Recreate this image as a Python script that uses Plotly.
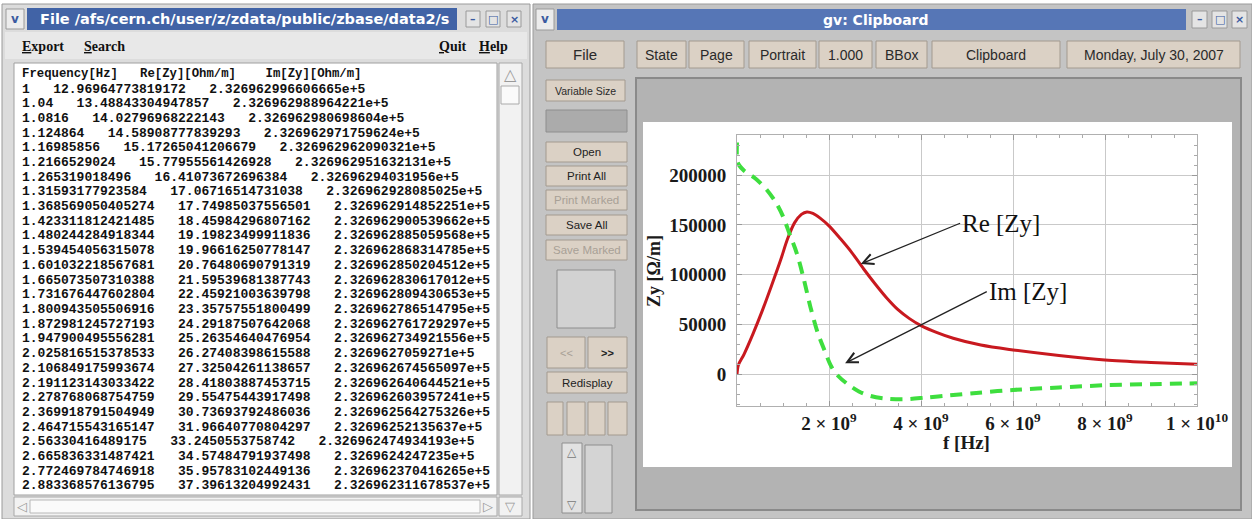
import plotly.graph_objects as go

W, H = 1252, 519

# ---------------- chart data ----------------
re_freq_hz = [0, 0.03e9, 0.15e9, 0.35e9, 0.55e9, 0.75e9, 0.95e9, 1.1e9, 1.25e9, 1.4e9,
              1.52e9, 1.65e9, 1.8e9, 2.0e9, 2.25e9, 2.5e9, 2.75e9, 3.0e9, 3.25e9, 3.5e9,
              3.75e9, 4.0e9, 4.35e9, 4.7e9, 5.3e9, 6.0e9, 7.0e9, 8.0e9, 9.0e9, 10.0e9]
re_zy = [0, 9500, 20000, 41000, 64000, 89000, 115000, 136000, 152000, 160500,
         163000, 161500, 157000, 149000, 136000, 122000, 106000, 91000, 77000, 65000,
         56000, 49000, 42000, 36300, 29500, 24600, 19000, 14500, 12000, 10200]

im_freq_hz = [0, 0.02e9, 0.15e9, 0.4e9, 0.65e9, 0.85e9, 1.0e9, 1.15e9, 1.3e9, 1.45e9,
              1.6e9, 1.75e9, 1.9e9, 2.05e9, 2.2e9, 2.4e9, 2.65e9, 2.9e9, 3.2e9, 3.6e9,
              4.1e9, 4.6e9, 5.2e9, 6.0e9, 7.0e9, 8.0e9, 9.0e9, 10.0e9]
im_zy = [232700, 212000, 204500, 196500, 185000, 172000, 158500, 140000, 121500, 96000,
         67000, 42500, 24500, 8000, -1500, -9500, -17000, -21500, -24000, -24900,
         -23200, -21000, -18500, -15500, -13000, -10800, -9700, -8800]

y_tick_vals = [0, 50000, 100000, 150000, 200000]
y_tick_text = ["0", "50000", "100000", "150000", "200000"]
x_tick_vals = [2e9, 4e9, 6e9, 8e9, 1e10]
x_tick_text = ["2 × 10<sup>9</sup>", "4 × 10<sup>9</sup>", "6 × 10<sup>9</sup>",
               "8 × 10<sup>9</sup>", "1 × 10<sup>10</sup>"]

# ---------------- text table in the file viewer ----------------
table_header = ["Frequency[Hz]", "Re[Zy][Ohm/m]", "Im[Zy][Ohm/m]"]
table_freq = ["1", "1.04", "1.0816", "1.124864", "1.16985856", "1.2166529024",
              "1.265319018496", "1.31593177923584", "1.368569050405274", "1.423311812421485",
              "1.480244284918344", "1.539454056315078", "1.601032218567681", "1.665073507310388",
              "1.731676447602804", "1.800943505506916", "1.872981245727193", "1.947900495556281",
              "2.025816515378533", "2.106849175993674", "2.191123143033422", "2.278768068754759",
              "2.369918791504949", "2.464715543165147", "2.56330416489175", "2.665836331487421",
              "2.772469784746918", "2.883368576136795"]
table_re = ["12.96964773819172", "13.48843304947857", "14.02796968222143", "14.58908777839293",
            "15.17265041206679", "15.77955561426928", "16.41073672696384", "17.06716514731038",
            "17.74985037556501", "18.45984296807162", "19.19823499911836", "19.96616250778147",
            "20.76480690791319", "21.59539681387743", "22.45921003639798", "23.35757551800499",
            "24.29187507642068", "25.26354640476954", "26.27408398615588", "27.32504261138657",
            "28.41803887453715", "29.55475443917498", "30.73693792486036", "31.96640770804297",
            "33.2450553758742", "34.57484791937498", "35.95783102449136", "37.39613204992431"]
table_im = ["2.326962996606665e+5", "2.326962988964221e+5", "2.326962980698604e+5",
            "2.326962971759624e+5", "2.326962962090321e+5", "2.326962951632131e+5",
            "2.32696294031956e+5", "2.326962928085025e+5", "2.326962914852251e+5",
            "2.326962900539662e+5", "2.326962885059568e+5", "2.326962868314785e+5",
            "2.326962850204512e+5", "2.326962830617012e+5", "2.326962809430653e+5",
            "2.326962786514795e+5", "2.326962761729297e+5", "2.326962734921556e+5",
            "2.3269627059271e+5", "2.326962674565097e+5", "2.326962640644521e+5",
            "2.326962603957241e+5", "2.326962564275326e+5", "2.32696252135637e+5",
            "2.326962474934193e+5", "2.3269624247235e+5", "2.326962370416265e+5",
            "2.326962311678537e+5"]

window_titles = ["File /afs/cern.ch/user/z/zdata/public/zbase/data2/s", "gv: Clipboard"]
top_buttons = ["File", "State", "Page", "Portrait", "1.000", "BBox", "Clipboard",
               "Monday, July 30, 2007"]
side_buttons = ["Open", "Print All", "Print Marked", "Save All", "Save Marked"]

# ---------------- helpers ----------------
shapes = []
annotations = []


def px(x):
    return x / W


def py(y):
    return 1 - y / H


def rect(x0, y0, x1, y1, fill, line="rgba(0,0,0,0)", lw=1, layer="below"):
    shapes.append(dict(type="rect", xref="paper", yref="paper",
                       x0=px(x0), x1=px(x1), y0=py(y1), y1=py(y0),
                       fillcolor=fill, line=dict(color=line, width=lw), layer=layer))


def text(x, y, s, size=13, color="#222", family="Liberation Sans", xanchor="center",
         angle=0):
    annotations.append(dict(x=px(x), y=py(y), xref="paper", yref="paper", text=s,
                            showarrow=False, xanchor=xanchor, yanchor="middle",
                            textangle=angle,
                            font=dict(size=size, color=color, family=family)))


NB = "\u00a0"

# ---------------- left window: file viewer ----------------
rect(2, 4, 530, 519, "#dcdcdc", "#9a9a9a")
rect(27, 8, 457, 30, "#4163a6")
rect(6, 9, 24, 29, "#ececec", "#9a9a9a")
text(15, 19, "<b>v</b>", 12, "#3a5aa0", "DejaVu Sans")
for bx, sym in [(466, "–"), (486, "□"), (507, "×")]:
    rect(bx, 11, bx + 14, 27, "#e4e4e4", "#9a9a9a")
    text(bx + 7, 19, "<b>" + sym + "</b>", 11, "#3a5aa0", "DejaVu Sans")
text(38, 19, "<b>" + window_titles[0] + "</b>", 14.5, "white", "DejaVu Sans", xanchor="left")
rect(5, 32, 527, 59, "#e8e8e8")
text(20, 46, "<b><u>E</u>xport</b>", 14, "#111", "Liberation Serif", xanchor="left")
text(82, 46, "<b><u>S</u>earch</b>", 14, "#111", "Liberation Serif", xanchor="left")
text(437, 46, "<b><u>Q</u>uit</b>", 14, "#111", "Liberation Serif", xanchor="left")
text(477, 46, "<b><u>H</u>elp</b>", 14, "#111", "Liberation Serif", xanchor="left")
rect(14, 63, 497, 495, "white", "#a0a0a0")
rect(499, 63, 522, 495, "#f2f2f2", "#a8a8a8")
text(510, 75, "△", 16, "#999", "DejaVu Sans")
rect(501, 86, 519, 104, "#fafafa", "#aaaaaa")
rect(14, 497, 497, 516, "#f2f2f2", "#a8a8a8")
rect(30, 500, 480, 513, "#fafafa", "#b8b8b8")
text(22, 506, "◁", 13, "#999", "DejaVu Sans")
text(488, 506, "▷", 13, "#999", "DejaVu Sans")
rect(499, 497, 522, 516, "#f2f2f2", "#a8a8a8")
text(510, 506, "▽", 13, "#999", "DejaVu Sans")

table_font = "Liberation Mono"
tsize = 13
header_line = table_header[0] + NB * 3 + table_header[1] + NB * 4 + table_header[2]
text(20, 74.5, "<b>" + header_line + "</b>", 12.3, "#111", table_font, xanchor="left")
for i, (f, r, m) in enumerate(zip(table_freq, table_re, table_im)):
    line = f + NB * 3 + r + NB * 3 + m
    text(20, 89 + i * 14.7, "<b>" + line + "</b>", tsize, "#111", table_font, xanchor="left")

# ---------------- right window: gv ----------------
rect(533, 4, 1252, 519, "#c4c4c4", "#9a9a9a")
rect(557, 9, 1186, 30, "#5676b6")
rect(536, 9, 554, 30, "#ececec", "#9a9a9a")
text(545, 19, "<b>v</b>", 12, "#3a5aa0", "DejaVu Sans")
for bx, sym in [(1192, "–"), (1212, "□"), (1232, "×")]:
    rect(bx, 11, bx + 15, 28, "#e4e4e4", "#9a9a9a")
    text(bx + 7.5, 19.5, "<b>" + sym + "</b>", 11, "#3a5aa0", "DejaVu Sans")
text(876, 19.5, "<b>" + window_titles[1] + "</b>", 14, "white", "DejaVu Sans")

btn_fill = "#dbd1c5"
btn_line = "#a39a8f"
top_xs = [(546, 624), (637, 686), (689, 744), (749, 816), (819, 872), (876, 927),
          (932, 1060), (1067, 1240)]
for (x0, x1), lab in zip(top_xs, top_buttons):
    rect(x0, 41, x1, 68, btn_fill, btn_line)
    text((x0 + x1) / 2, 55, lab, 15 if lab == "File" else 14, "#2a2a2a",
         "Liberation Sans Narrow, Liberation Sans")

rect(546, 80, 625, 101, btn_fill, btn_line)
text(585.5, 91, "Variable Size", 10.5, "#2a2a2a", "Liberation Sans Narrow, Liberation Sans")
rect(546, 110, 627, 132, "#ababab", "#8e8e8e")

side_ys = [(142, 162), (166, 186), (190, 210), (215, 235), (240, 260)]
for (y0, y1), lab in zip(side_ys, side_buttons):
    rect(546, y0, 627, y1, btn_fill, btn_line)
    col = "#a8a096" if "Marked" in lab else "#222"
    text(586.5, (y0 + y1) / 2, lab, 11.5, col, "Liberation Sans Narrow, Liberation Sans")

rect(557, 270, 615, 328, "#d2d2d2", "#8e8e8e")
rect(547, 337, 585, 368, btn_fill, btn_line)
text(566, 352.5, "<<", 11, "#a8a096", "Liberation Sans")
rect(588, 337, 627, 368, btn_fill, btn_line)
text(607.5, 352.5, "<b>>></b>", 11, "#222", "Liberation Sans")
rect(547, 372, 627, 393, btn_fill, btn_line)
text(587, 382.5, "Redisplay", 11.5, "#222", "Liberation Sans Narrow, Liberation Sans")
for x0, x1 in [(547, 563), (567, 585), (588, 605), (608, 627)]:
    rect(x0, 402, x1, 435, btn_fill, btn_line)
rect(562, 443, 582, 513, "#e2e2e2", "#8e8e8e")
text(572, 452, "△", 12, "#777", "DejaVu Sans")
text(572, 505, "▽", 12, "#777", "DejaVu Sans")
rect(585, 445, 612, 513, "#d4d4d4", "#8e8e8e")

# canvas and page
rect(636, 78, 1241, 510, "#b3b3b3", "#8a8a8a", 2)
rect(643, 122, 1232, 467, "white")

# ---------------- plot ----------------
fig = go.Figure()
fig.add_trace(go.Scatter(x=re_freq_hz, y=re_zy, mode="lines", name="Re[Zy]",
                         line=dict(color="#c8191f", width=3, shape="spline", smoothing=0.9)))
fig.add_trace(go.Scatter(x=im_freq_hz, y=im_zy, mode="lines", name="Im[Zy]",
                         line=dict(color="#3ede3e", width=4, dash="12px,8px",
                                   shape="spline", smoothing=0.9)))

tick_font = dict(family="Liberation Serif", size=19, color="#1a1a1a", weight="bold")
fig.update_xaxes(domain=[px(737), px(1197)], range=[0, 1e10], automargin=False,
                 tickmode="array", tickvals=x_tick_vals, ticktext=x_tick_text,
                 tickfont=tick_font, ticks="inside", ticklen=5, tickcolor="#999",
                 showgrid=True, gridcolor="#c9c9c9", gridwidth=1, zeroline=False,
                 showline=True, linecolor="#b0b0b0", linewidth=1, mirror="allticks",
                 ticklabelstandoff=0,
                 minor=dict(tickmode="linear", tick0=0, dtick=5e8, ticks="inside",
                            ticklen=3, tickcolor="#aaa", showgrid=False))
fig.update_yaxes(domain=[py(406), py(135)], range=[-31600, 240100], automargin=False,
                 tickmode="array", tickvals=y_tick_vals, ticktext=y_tick_text,
                 tickfont=tick_font, ticks="inside", ticklen=5, tickcolor="#999",
                 showgrid=True, gridcolor="#c9c9c9", gridwidth=1, zeroline=False,
                 showline=True, linecolor="#b0b0b0", linewidth=1, mirror="allticks",
                 ticklabelstandoff=6,
                 minor=dict(tickmode="linear", tick0=0, dtick=10000, ticks="inside",
                            ticklen=3, tickcolor="#aaa", showgrid=False))

# axis titles
text(966, 442, "<b>f [Hz]</b>", 19, "#1a1a1a", "Liberation Serif")
text(654, 271, "<b>Zy [Ω/m]</b>", 18, "#1a1a1a", "Liberation Serif", angle=-90)

# curve labels with arrows
label_font = dict(family="Liberation Serif", size=25, color="#111")
annotations.append(dict(x=2.69e9, y=110800, ax=4.85e9, ay=151600, xref="x", yref="y",
                        axref="x", ayref="y", text="Re [Zy]", showarrow=True,
                        xanchor="left", yanchor="middle", font=label_font,
                        arrowhead=5, arrowsize=1.6, arrowwidth=1.3, arrowcolor="#222"))
annotations.append(dict(x=2.35e9, y=11200, ax=5.43e9, ay=83000, xref="x", yref="y",
                        axref="x", ayref="y", text="Im [Zy]", showarrow=True,
                        xanchor="left", yanchor="middle", font=label_font,
                        arrowhead=5, arrowsize=1.6, arrowwidth=1.3, arrowcolor="#222"))

fig.update_layout(width=W, height=H, autosize=False,
                  margin=dict(l=0, r=0, t=0, b=0, pad=0, autoexpand=False),
                  paper_bgcolor="white", plot_bgcolor="rgba(0,0,0,0)",
                  showlegend=False, shapes=shapes, annotations=annotations)

fig.write_html("out.html", config={"displayModeBar": False},
               post_script="document.body.style.margin='0px';")
